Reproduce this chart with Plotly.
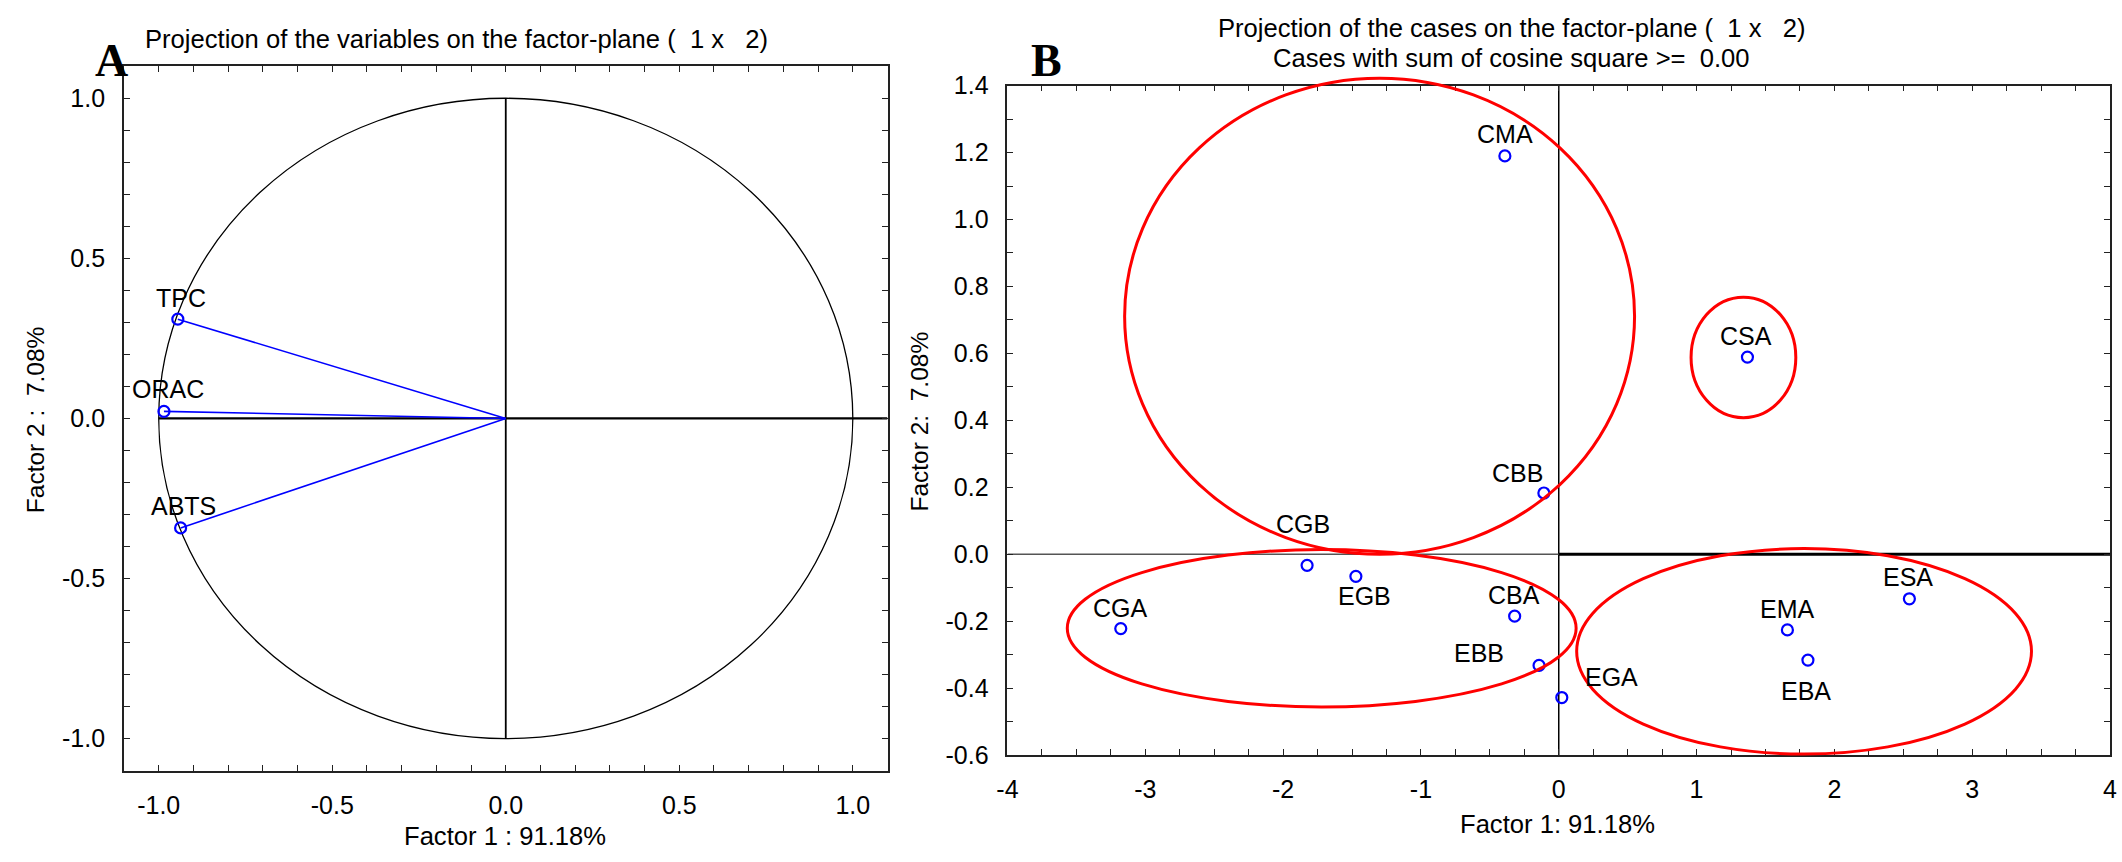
import plotly.graph_objects as go

W, H = 2122, 862

# ---------------- data ----------------
# Panel A: variable loadings on factor 1 / factor 2
var_names = ["TPC", "ORAC", "ABTS"]
var_f1 = [-0.945, -0.985, -0.937]
var_f2 = [0.310, 0.022, -0.342]

# Panel B: case scores on factor 1 / factor 2
case_names = ["CMA", "CSA", "CBB", "CGB", "EGB", "CGA", "CBA", "EBB", "EGA", "EMA", "EBA", "ESA"]
case_f1 = [-0.391, 1.369, -0.108, -1.826, -1.472, -3.178, -0.320, -0.143, 0.022, 1.659, 1.808, 2.544]
case_f2 = [1.190, 0.589, 0.183, -0.033, -0.066, -0.222, -0.185, -0.332, -0.428, -0.226, -0.316, -0.133]

# group ellipses in panel B (centre f1, centre f2, half-width, half-height)
group_cx = [-1.30, -1.72, 1.78, 1.34]
group_cy = [0.711, -0.221, -0.29, 0.588]
group_rx = [1.85, 1.846, 1.65, 0.38]
group_ry = [0.711, 0.235, 0.307, 0.18]

# tick labels
a_ticks = [-1.0, -0.5, 0.0, 0.5, 1.0]
a_ticktext = ["-1.0", "-0.5", "0.0", "0.5", "1.0"]
bx_ticks = [-4, -3, -2, -1, 0, 1, 2, 3, 4]
bx_ticktext = ["-4", "-3", "-2", "-1", "0", "1", "2", "3", "4"]
by_ticks = [-0.6, -0.4, -0.2, 0.0, 0.2, 0.4, 0.6, 0.8, 1.0, 1.2, 1.4]
by_ticktext = ["-0.6", "-0.4", "-0.2", "0.0", "0.2", "0.4", "0.6", "0.8", "1.0", "1.2", "1.4"]

# ---------------- style ----------------
FONT = "Arial, Liberation Sans, Helvetica, sans-serif"
SERIF = "Times New Roman, Liberation Serif, serif"
FS = 25
TFS = 25.6
BLUE = "#0000ff"
RED = "#ff0000"
AXC = "#222222"

var_label_dx = [3, 4, 3]
var_label_dy = [21, 22, 22]
case_label_dx = [0, -1, -26, -4, 9, 0, -1, -60, 50, 0, -2, -1]
case_label_dy = [22, 21, 20, 41, -20, 21, 21, 12, 21, 21, -31, 22]

A_RX = [-1.1, 1.1]
A_RY = [-1.1, 1.1]
B_RX = [-4, 4]
B_RY = [-0.6, 1.4]


def px(x):
    return x / W


def py(y):
    return 1 - y / H


fig = go.Figure()

# ---- Panel A: vectors from origin ----
lx, ly = [], []
for a, b in zip(var_f1, var_f2):
    lx += [0, a, None]
    ly += [0, b, None]
fig.add_trace(go.Scatter(x=lx, y=ly, mode="lines", line=dict(color=BLUE, width=1.6),
                         xaxis="x", yaxis="y", showlegend=False, hoverinfo="skip"))
fig.add_trace(go.Scatter(x=var_f1, y=var_f2, mode="markers",
                         marker=dict(symbol="circle-open", size=11, color=BLUE, line=dict(width=2.2, color=BLUE)),
                         xaxis="x", yaxis="y", showlegend=False, cliponaxis=False))

# ---- Panel B: cases ----
fig.add_trace(go.Scatter(x=case_f1, y=case_f2, mode="markers",
                         marker=dict(symbol="circle-open", size=11, color=BLUE, line=dict(width=2.2, color=BLUE)),
                         xaxis="x2", yaxis="y2", showlegend=False, cliponaxis=False))

shapes = []
# Panel A: unit circle and axes lines
shapes.append(dict(type="circle", xref="x", yref="y", x0=-1, x1=1, y0=-1, y1=1,
                   line=dict(color="black", width=1.3), layer="below"))
shapes.append(dict(type="line", xref="x", yref="y", x0=0, x1=0, y0=-1, y1=1,
                   line=dict(color="black", width=1.8), layer="below"))
shapes.append(dict(type="line", xref="x", yref="y", x0=-1, x1=A_RX[1], y0=0, y1=0,
                   line=dict(color="black", width=2.2), layer="below"))

# Panel B: axes lines
shapes.append(dict(type="line", xref="x2", yref="y2", x0=0, x1=0, y0=B_RY[0], y1=B_RY[1],
                   line=dict(color="black", width=1.5), layer="below"))
shapes.append(dict(type="line", xref="x2", yref="y2", x0=B_RX[0], x1=0, y0=0, y1=0,
                   line=dict(color="#555555", width=1.6), layer="below"))
shapes.append(dict(type="line", xref="x2", yref="y2", x0=0, x1=B_RX[1], y0=0, y1=0,
                   line=dict(color="black", width=3), layer="below"))


def fx(v):
    return (v - B_RX[0]) / (B_RX[1] - B_RX[0])


def fy(v):
    return (v - B_RY[0]) / (B_RY[1] - B_RY[0])


for cx, cy, rx, ry in zip(group_cx, group_cy, group_rx, group_ry):
    shapes.append(dict(type="circle", xref="x2 domain", yref="y2 domain",
                       x0=fx(cx - rx), x1=fx(cx + rx), y0=fy(cy - ry), y1=fy(cy + ry),
                       line=dict(color=RED, width=3)))

ann = []
for n, a, b, dx, dy in zip(var_names, var_f1, var_f2, var_label_dx, var_label_dy):
    ann.append(dict(x=a, y=b, xref="x", yref="y", text=n, showarrow=False,
                    xshift=dx, yshift=dy, font=dict(family=FONT, size=FS, color="black")))
for n, a, b, dx, dy in zip(case_names, case_f1, case_f2, case_label_dx, case_label_dy):
    ann.append(dict(x=a, y=b, xref="x2", yref="y2", text=n, showarrow=False,
                    xshift=dx, yshift=dy, font=dict(family=FONT, size=FS, color="black")))


def txt(text, x, y, size=TFS, angle=0, family=FONT, bold=False):
    t = "<b>%s</b>" % text if bold else text
    return dict(text=t, x=px(x), y=py(y), xref="paper", yref="paper", showarrow=False,
                xanchor="center", yanchor="middle", textangle=angle,
                font=dict(family=family, size=size, color="black"))


ann += [
    txt("Projection of the variables on the factor-plane (  1 x   2)", 449, 26),
    txt("Factor 1 : 91.18%", 498, 850),
    txt("Factor 2 :  7.08%", 25, 419, angle=-90, size=24.5),
    txt("A", 101, 48, size=46, family=SERIF, bold=True),
    txt("Projection of the cases on the factor-plane (  1 x   2)", 1514, 14),
    txt("Cases with sum of cosine square >=  0.00", 1513, 45),
    txt("Factor 1: 91.18%", 1560, 837),
    txt("Factor 2:  7.08%", 916, 421, angle=-90, size=24.5),
    txt("B", 1044, 48, size=46, family=SERIF, bold=True),
]

axis_common = dict(showgrid=False, zeroline=False, showline=True, linecolor=AXC, linewidth=1.8,
                   mirror="allticks", ticks="inside", ticklen=6, tickwidth=1.2, tickcolor=AXC,
                   ticklabeloverflow="allow",
                   tickfont=dict(family=FONT, size=FS, color="black"))

fig.update_layout(
    width=W, height=H, margin=dict(l=0, r=0, t=0, b=0),
    paper_bgcolor="white", plot_bgcolor="white", showlegend=False,
    xaxis=dict(domain=[px(114), px(884)], range=A_RX, tickmode="array", tickvals=a_ticks, ticktext=a_ticktext,
               minor=dict(dtick=0.1, tick0=0, ticks="inside", ticklen=6, tickcolor=AXC),
               ticklabelstandoff=12, anchor="y", **axis_common),
    yaxis=dict(domain=[py(782), py(54)], range=A_RY, tickmode="array", tickvals=a_ticks, ticktext=a_ticktext,
               minor=dict(dtick=0.1, tick0=0, ticks="inside", ticklen=6, tickcolor=AXC),
               ticklabelstandoff=12, anchor="x", **axis_common),
    xaxis2=dict(domain=[px(1005), px(2117)], range=B_RX, tickmode="array", tickvals=bx_ticks, ticktext=bx_ticktext,
                minor=dict(dtick=0.25, tick0=0, ticks="inside", ticklen=6, tickcolor=AXC),
                ticklabelstandoff=11, anchor="y2", **axis_common),
    yaxis2=dict(domain=[py(766), py(74)], range=B_RY, tickmode="array", tickvals=by_ticks, ticktext=by_ticktext,
                minor=dict(dtick=0.1, tick0=0, ticks="inside", ticklen=6, tickcolor=AXC),
                ticklabelstandoff=12, anchor="x2", **axis_common),
    shapes=shapes,
    annotations=ann,
)

fig.write_html("out.html", post_script="document.body.style.margin='0px';")
